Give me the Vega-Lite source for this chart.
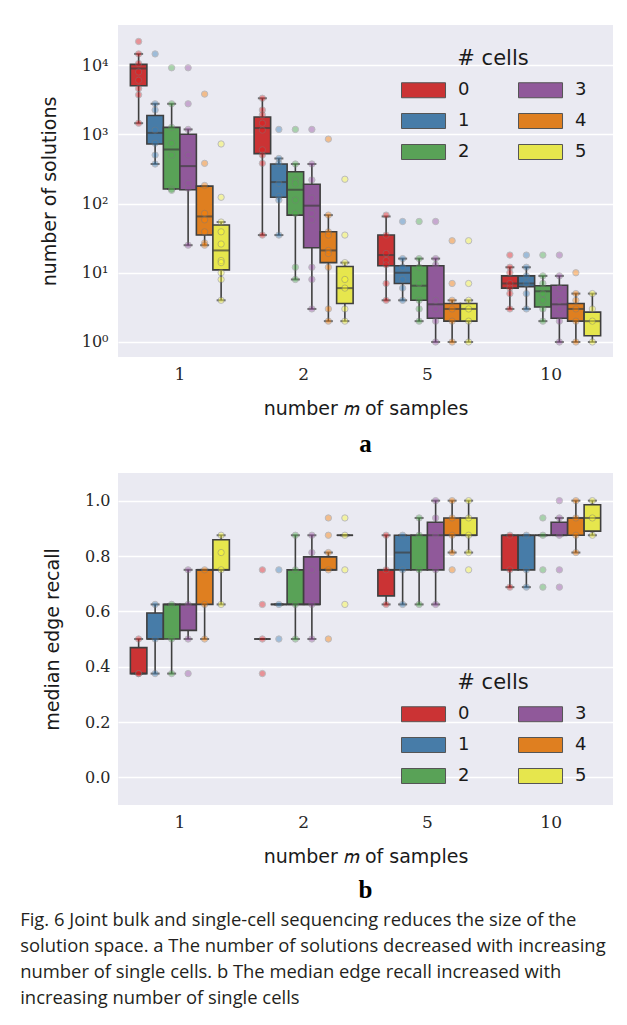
{
  "$schema": "https://vega.github.io/schema/vega-lite/v6.json",
  "background": "white",
  "padding": {"left": 20, "top": 25, "right": 16, "bottom": 5},
  "datasets": {
    "top_box": [
      {"m":"1","cells":"0","lo":1445,"q1":5012,"med":8913,"q3":10233,"hi":14454},
      {"m":"1","cells":"1","lo":372,"q1":724,"med":1047,"q3":1862,"hi":2754},
      {"m":"1","cells":"2","lo":162,"q1":162,"med":603,"q3":1259,"hi":2754},
      {"m":"1","cells":"3","lo":25,"q1":158,"med":347,"q3":1000,"hi":1175},
      {"m":"1","cells":"4","lo":25,"q1":35,"med":65,"q3":178,"hi":178},
      {"m":"1","cells":"5","lo":4,"q1":11,"med":21,"q3":49,"hi":54},
      {"m":"2","cells":"0","lo":35,"q1":525,"med":1230,"q3":1778,"hi":3311},
      {"m":"2","cells":"1","lo":35,"q1":123,"med":204,"q3":372,"hi":447},
      {"m":"2","cells":"2","lo":8,"q1":68,"med":158,"q3":288,"hi":372},
      {"m":"2","cells":"3","lo":3,"q1":23,"med":93,"q3":190,"hi":372},
      {"m":"2","cells":"4","lo":2,"q1":14,"med":21,"q3":39,"hi":68},
      {"m":"2","cells":"5","lo":2,"q1":3.6,"med":6,"q3":12.3,"hi":14},
      {"m":"5","cells":"0","lo":4,"q1":12.6,"med":18,"q3":35,"hi":65},
      {"m":"5","cells":"1","lo":4,"q1":7,"med":10,"q3":12.6,"hi":16},
      {"m":"5","cells":"2","lo":2,"q1":4,"med":6.5,"q3":12.6,"hi":16},
      {"m":"5","cells":"3","lo":1,"q1":2.2,"med":3.5,"q3":12.6,"hi":16},
      {"m":"5","cells":"4","lo":1,"q1":2,"med":3,"q3":3.6,"hi":4},
      {"m":"5","cells":"5","lo":1,"q1":2,"med":3,"q3":3.6,"hi":4},
      {"m":"10","cells":"0","lo":3,"q1":6,"med":7,"q3":9,"hi":12},
      {"m":"10","cells":"1","lo":3,"q1":6.3,"med":7,"q3":9,"hi":12},
      {"m":"10","cells":"2","lo":2,"q1":3.2,"med":5.4,"q3":6.5,"hi":9},
      {"m":"10","cells":"3","lo":1,"q1":2.2,"med":3.5,"q3":6.6,"hi":9},
      {"m":"10","cells":"4","lo":1,"q1":2,"med":3,"q3":3.6,"hi":5},
      {"m":"10","cells":"5","lo":1,"q1":1.23,"med":2,"q3":2.7,"hi":5}
    ],
    "top_pts": [
      {"m":"1","cells":"0","v":21878},{"m":"1","cells":"0","v":14454},{"m":"1","cells":"0","v":10500},{"m":"1","cells":"0","v":7943},{"m":"1","cells":"0","v":6026},{"m":"1","cells":"0","v":4571},{"m":"1","cells":"0","v":3715},{"m":"1","cells":"0","v":1445},
      {"m":"1","cells":"1","v":14454},{"m":"1","cells":"1","v":2754},{"m":"1","cells":"1","v":2239},{"m":"1","cells":"1","v":1148},{"m":"1","cells":"1","v":741},{"m":"1","cells":"1","v":501},{"m":"1","cells":"1","v":372},
      {"m":"1","cells":"2","v":9120},{"m":"1","cells":"2","v":2754},{"m":"1","cells":"2","v":1259},{"m":"1","cells":"2","v":741},{"m":"1","cells":"2","v":501},{"m":"1","cells":"2","v":162},{"m":"1","cells":"2","v":155},
      {"m":"1","cells":"3","v":9120},{"m":"1","cells":"3","v":2754},{"m":"1","cells":"3","v":1175},{"m":"1","cells":"3","v":501},{"m":"1","cells":"3","v":195},{"m":"1","cells":"3","v":166},{"m":"1","cells":"3","v":25},
      {"m":"1","cells":"4","v":3802},{"m":"1","cells":"4","v":380},{"m":"1","cells":"4","v":182},{"m":"1","cells":"4","v":72},{"m":"1","cells":"4","v":58},{"m":"1","cells":"4","v":39},{"m":"1","cells":"4","v":27},{"m":"1","cells":"4","v":25},
      {"m":"1","cells":"5","v":724},{"m":"1","cells":"5","v":123},{"m":"1","cells":"5","v":54},{"m":"1","cells":"5","v":39},{"m":"1","cells":"5","v":26},{"m":"1","cells":"5","v":15},{"m":"1","cells":"5","v":14},{"m":"1","cells":"5","v":10},{"m":"1","cells":"5","v":8},{"m":"1","cells":"5","v":4},
      {"m":"2","cells":"0","v":3311},{"m":"2","cells":"0","v":2239},{"m":"2","cells":"0","v":1905},{"m":"2","cells":"0","v":1445},{"m":"2","cells":"0","v":1148},{"m":"2","cells":"0","v":596},{"m":"2","cells":"0","v":501},{"m":"2","cells":"0","v":380},{"m":"2","cells":"0","v":35},
      {"m":"2","cells":"1","v":1175},{"m":"2","cells":"1","v":447},{"m":"2","cells":"1","v":380},{"m":"2","cells":"1","v":195},{"m":"2","cells":"1","v":126},{"m":"2","cells":"1","v":112},{"m":"2","cells":"1","v":35},
      {"m":"2","cells":"2","v":1175},{"m":"2","cells":"2","v":372},{"m":"2","cells":"2","v":219},{"m":"2","cells":"2","v":195},{"m":"2","cells":"2","v":112},{"m":"2","cells":"2","v":72},{"m":"2","cells":"2","v":12},{"m":"2","cells":"2","v":8},
      {"m":"2","cells":"3","v":1175},{"m":"2","cells":"3","v":372},{"m":"2","cells":"3","v":219},{"m":"2","cells":"3","v":120},{"m":"2","cells":"3","v":72},{"m":"2","cells":"3","v":58},{"m":"2","cells":"3","v":12},{"m":"2","cells":"3","v":8},{"m":"2","cells":"3","v":3},
      {"m":"2","cells":"4","v":851},{"m":"2","cells":"4","v":68},{"m":"2","cells":"4","v":39},{"m":"2","cells":"4","v":35},{"m":"2","cells":"4","v":21},{"m":"2","cells":"4","v":19},{"m":"2","cells":"4","v":12},{"m":"2","cells":"4","v":3},{"m":"2","cells":"4","v":2},
      {"m":"2","cells":"5","v":224},{"m":"2","cells":"5","v":35},{"m":"2","cells":"5","v":14},{"m":"2","cells":"5","v":8},{"m":"2","cells":"5","v":6},{"m":"2","cells":"5","v":3},{"m":"2","cells":"5","v":2},
      {"m":"5","cells":"0","v":68},{"m":"5","cells":"0","v":35},{"m":"5","cells":"0","v":19},{"m":"5","cells":"0","v":15},{"m":"5","cells":"0","v":13},{"m":"5","cells":"0","v":7},{"m":"5","cells":"0","v":4},
      {"m":"5","cells":"1","v":55},{"m":"5","cells":"1","v":16},{"m":"5","cells":"1","v":12},{"m":"5","cells":"1","v":8},{"m":"5","cells":"1","v":6},{"m":"5","cells":"1","v":4},
      {"m":"5","cells":"2","v":55},{"m":"5","cells":"2","v":16},{"m":"5","cells":"2","v":12},{"m":"5","cells":"2","v":7},{"m":"5","cells":"2","v":4},{"m":"5","cells":"2","v":3},{"m":"5","cells":"2","v":2},
      {"m":"5","cells":"3","v":55},{"m":"5","cells":"3","v":16},{"m":"5","cells":"3","v":13},{"m":"5","cells":"3","v":4},{"m":"5","cells":"3","v":3},{"m":"5","cells":"3","v":2},{"m":"5","cells":"3","v":1},
      {"m":"5","cells":"4","v":29},{"m":"5","cells":"4","v":7},{"m":"5","cells":"4","v":4},{"m":"5","cells":"4","v":3},{"m":"5","cells":"4","v":2},{"m":"5","cells":"4","v":1},
      {"m":"5","cells":"5","v":29},{"m":"5","cells":"5","v":7},{"m":"5","cells":"5","v":4},{"m":"5","cells":"5","v":3},{"m":"5","cells":"5","v":2},{"m":"5","cells":"5","v":1},
      {"m":"10","cells":"0","v":18},{"m":"10","cells":"0","v":12},{"m":"10","cells":"0","v":10},{"m":"10","cells":"0","v":7},{"m":"10","cells":"0","v":6},{"m":"10","cells":"0","v":5},{"m":"10","cells":"0","v":3},
      {"m":"10","cells":"1","v":18},{"m":"10","cells":"1","v":12},{"m":"10","cells":"1","v":9},{"m":"10","cells":"1","v":7},{"m":"10","cells":"1","v":5},{"m":"10","cells":"1","v":3},
      {"m":"10","cells":"2","v":18},{"m":"10","cells":"2","v":9},{"m":"10","cells":"2","v":7},{"m":"10","cells":"2","v":5},{"m":"10","cells":"2","v":4},{"m":"10","cells":"2","v":3},{"m":"10","cells":"2","v":2},
      {"m":"10","cells":"3","v":18},{"m":"10","cells":"3","v":9},{"m":"10","cells":"3","v":6},{"m":"10","cells":"3","v":4},{"m":"10","cells":"3","v":3},{"m":"10","cells":"3","v":2},{"m":"10","cells":"3","v":1},
      {"m":"10","cells":"4","v":10},{"m":"10","cells":"4","v":5},{"m":"10","cells":"4","v":4},{"m":"10","cells":"4","v":3},{"m":"10","cells":"4","v":2},{"m":"10","cells":"4","v":1},
      {"m":"10","cells":"5","v":5},{"m":"10","cells":"5","v":3},{"m":"10","cells":"5","v":2},{"m":"10","cells":"5","v":1}
    ],
    "bot_box": [
      {"m":"1","cells":"0","lo":0.375,"q1":0.375,"med":0.375,"q3":0.46875,"hi":0.5},
      {"m":"1","cells":"1","lo":0.375,"q1":0.5,"med":0.5,"q3":0.59375,"hi":0.625},
      {"m":"1","cells":"2","lo":0.375,"q1":0.5,"med":0.625,"q3":0.625,"hi":0.625},
      {"m":"1","cells":"3","lo":0.5,"q1":0.53125,"med":0.625,"q3":0.625,"hi":0.75},
      {"m":"1","cells":"4","lo":0.5,"q1":0.625,"med":0.75,"q3":0.75,"hi":0.75},
      {"m":"1","cells":"5","lo":0.625,"q1":0.75,"med":0.75,"q3":0.859,"hi":0.875},
      {"m":"2","cells":"0","lo":0.5,"q1":0.5,"med":0.5,"q3":0.5,"hi":0.5},
      {"m":"2","cells":"1","lo":0.625,"q1":0.625,"med":0.625,"q3":0.625,"hi":0.625},
      {"m":"2","cells":"2","lo":0.5,"q1":0.625,"med":0.625,"q3":0.75,"hi":0.875},
      {"m":"2","cells":"3","lo":0.5,"q1":0.625,"med":0.625,"q3":0.797,"hi":0.875},
      {"m":"2","cells":"4","lo":0.75,"q1":0.75,"med":0.75,"q3":0.797,"hi":0.8125},
      {"m":"2","cells":"5","lo":0.875,"q1":0.875,"med":0.875,"q3":0.875,"hi":0.875},
      {"m":"5","cells":"0","lo":0.625,"q1":0.656,"med":0.75,"q3":0.75,"hi":0.875},
      {"m":"5","cells":"1","lo":0.625,"q1":0.75,"med":0.8125,"q3":0.875,"hi":0.875},
      {"m":"5","cells":"2","lo":0.625,"q1":0.75,"med":0.875,"q3":0.875,"hi":0.9375},
      {"m":"5","cells":"3","lo":0.625,"q1":0.75,"med":0.875,"q3":0.922,"hi":1.0},
      {"m":"5","cells":"4","lo":0.8125,"q1":0.875,"med":0.875,"q3":0.9375,"hi":1.0},
      {"m":"5","cells":"5","lo":0.8125,"q1":0.875,"med":0.875,"q3":0.9375,"hi":1.0},
      {"m":"10","cells":"0","lo":0.6875,"q1":0.75,"med":0.875,"q3":0.875,"hi":0.875},
      {"m":"10","cells":"1","lo":0.6875,"q1":0.75,"med":0.875,"q3":0.875,"hi":0.875},
      {"m":"10","cells":"2","lo":0.875,"q1":0.875,"med":0.875,"q3":0.875,"hi":0.875},
      {"m":"10","cells":"3","lo":0.875,"q1":0.875,"med":0.875,"q3":0.922,"hi":0.9375},
      {"m":"10","cells":"4","lo":0.8125,"q1":0.875,"med":0.9375,"q3":0.9375,"hi":1.0},
      {"m":"10","cells":"5","lo":0.875,"q1":0.89,"med":0.9375,"q3":0.985,"hi":1.0}
    ],
    "bot_pts": [
      {"m":"1","cells":"0","v":0.5},{"m":"1","cells":"0","v":0.375},{"m":"1","cells":"0","v":0.375},
      {"m":"1","cells":"1","v":0.625},{"m":"1","cells":"1","v":0.5},{"m":"1","cells":"1","v":0.375},
      {"m":"1","cells":"2","v":0.625},{"m":"1","cells":"2","v":0.5},{"m":"1","cells":"2","v":0.375},
      {"m":"1","cells":"3","v":0.75},{"m":"1","cells":"3","v":0.625},{"m":"1","cells":"3","v":0.5},{"m":"1","cells":"3","v":0.375},
      {"m":"1","cells":"4","v":0.75},{"m":"1","cells":"4","v":0.625},{"m":"1","cells":"4","v":0.5},
      {"m":"1","cells":"5","v":0.875},{"m":"1","cells":"5","v":0.8125},{"m":"1","cells":"5","v":0.75},{"m":"1","cells":"5","v":0.625},
      {"m":"2","cells":"0","v":0.75},{"m":"2","cells":"0","v":0.625},{"m":"2","cells":"0","v":0.5},{"m":"2","cells":"0","v":0.375},
      {"m":"2","cells":"1","v":0.75},{"m":"2","cells":"1","v":0.625},{"m":"2","cells":"1","v":0.5},
      {"m":"2","cells":"2","v":0.875},{"m":"2","cells":"2","v":0.75},{"m":"2","cells":"2","v":0.625},{"m":"2","cells":"2","v":0.5},
      {"m":"2","cells":"3","v":0.875},{"m":"2","cells":"3","v":0.8125},{"m":"2","cells":"3","v":0.75},{"m":"2","cells":"3","v":0.625},{"m":"2","cells":"3","v":0.5},
      {"m":"2","cells":"4","v":0.9375},{"m":"2","cells":"4","v":0.875},{"m":"2","cells":"4","v":0.8125},{"m":"2","cells":"4","v":0.75},{"m":"2","cells":"4","v":0.5},
      {"m":"2","cells":"5","v":0.9375},{"m":"2","cells":"5","v":0.875},{"m":"2","cells":"5","v":0.75},{"m":"2","cells":"5","v":0.625},
      {"m":"5","cells":"0","v":0.875},{"m":"5","cells":"0","v":0.75},{"m":"5","cells":"0","v":0.625},
      {"m":"5","cells":"1","v":0.875},{"m":"5","cells":"1","v":0.75},{"m":"5","cells":"1","v":0.625},
      {"m":"5","cells":"2","v":0.9375},{"m":"5","cells":"2","v":0.875},{"m":"5","cells":"2","v":0.75},{"m":"5","cells":"2","v":0.625},
      {"m":"5","cells":"3","v":1.0},{"m":"5","cells":"3","v":0.9375},{"m":"5","cells":"3","v":0.875},{"m":"5","cells":"3","v":0.75},{"m":"5","cells":"3","v":0.625},
      {"m":"5","cells":"4","v":1.0},{"m":"5","cells":"4","v":0.9375},{"m":"5","cells":"4","v":0.875},{"m":"5","cells":"4","v":0.8125},{"m":"5","cells":"4","v":0.75},
      {"m":"5","cells":"5","v":1.0},{"m":"5","cells":"5","v":0.9375},{"m":"5","cells":"5","v":0.875},{"m":"5","cells":"5","v":0.8125},{"m":"5","cells":"5","v":0.75},
      {"m":"10","cells":"0","v":0.875},{"m":"10","cells":"0","v":0.75},{"m":"10","cells":"0","v":0.6875},
      {"m":"10","cells":"1","v":0.875},{"m":"10","cells":"1","v":0.75},{"m":"10","cells":"1","v":0.6875},
      {"m":"10","cells":"2","v":0.9375},{"m":"10","cells":"2","v":0.875},{"m":"10","cells":"2","v":0.75},{"m":"10","cells":"2","v":0.6875},
      {"m":"10","cells":"3","v":1.0},{"m":"10","cells":"3","v":0.9375},{"m":"10","cells":"3","v":0.875},{"m":"10","cells":"3","v":0.75},{"m":"10","cells":"3","v":0.6875},
      {"m":"10","cells":"4","v":1.0},{"m":"10","cells":"4","v":0.9375},{"m":"10","cells":"4","v":0.875},{"m":"10","cells":"4","v":0.8125},
      {"m":"10","cells":"5","v":1.0},{"m":"10","cells":"5","v":0.9375},{"m":"10","cells":"5","v":0.875}
    ]
  },
  "config": {
    "view": {"fill": "#eaeaf2", "stroke": null},
    "axis": {"domain": false, "ticks": false, "gridColor": "white", "gridWidth": 1.3, "labelFont": "DejaVu Serif", "labelColor": "#262626", "titleFont": "DejaVu Sans", "titleFontWeight": "normal", "titleColor": "#1a1a1a", "titleFontSize": 19},
    "legend": {"padding": 0, "titleFont": "DejaVu Sans", "titleFontSize": 21, "titleFontWeight": "normal", "titleColor": "#1a1a1a", "titleAnchor": "middle", "titlePadding": 12, "labelFont": "DejaVu Sans", "labelFontSize": 18, "labelColor": "#1a1a1a", "symbolType": "M-1,-1H4.87V1H-1Z", "symbolSize": 225, "symbolStrokeColor": "#555555", "symbolStrokeWidth": 1, "symbolOpacity": 1, "labelOffset": 40, "columnPadding": 46, "rowPadding": 11, "columns": 2}
  },
  "title": {
    "text": ["Fig. 6  Joint bulk and single-cell sequencing reduces the size of the", "solution space. a The number of solutions decreased with increasing", "number of single cells. b The median edge recall increased with", "increasing number of single cells"],
    "orient": "bottom", "anchor": "start", "frame": "bounds", "font": "Open Sans", "fontSize": 18.4, "fontWeight": "normal", "lineHeight": 26, "color": "#231f20", "offset": 8, "dx": -20
  },
  "spacing": 16,
  "resolve": {"scale": {"color": "independent", "fill": "independent", "y": "independent", "x": "independent", "xOffset": "independent"}, "legend": {"color": "independent", "fill": "independent"}},
  "vconcat": [
    {
      "width": 495, "height": 332,
      "title": {"text": "a", "orient": "bottom", "font": "Liberation Serif", "fontSize": 25, "fontWeight": "bold", "color": "black", "offset": 14},
      "layer": [
        {"data": {"name": "top_box"}, "mark": {"type": "rule", "color": "#3f3f3f", "strokeWidth": 1.6},
         "encoding": {
           "x": {"field": "m", "type": "ordinal", "sort": ["1","2","5","10"], "scale": {"paddingInner": 0, "paddingOuter": 0}, "title": "number 𝑚 of samples", "axis": {"labelAngle": 0, "labelFontSize": 17, "labelPadding": 9, "titlePadding": 17, "grid": false}},
           "xOffset": {"field": "cells", "type": "nominal", "sort": ["0","1","2","3","4","5"], "scale": {"paddingInner": 0, "paddingOuter": 0.75}},
           "y": {"field": "lo", "type": "quantitative", "scale": {"type": "log", "domain": [0.607, 37840], "nice": false}, "title": "number of solutions", "axis": {"values": [1,10,100,1000,10000], "labelExpr": "datum.value == 1 ? '10⁰' : datum.value == 10 ? '10¹' : datum.value == 100 ? '10²' : datum.value == 1000 ? '10³' : '10⁴'", "labelFontSize": 16, "labelPadding": 10, "titlePadding": 22}},
           "y2": {"field": "hi"}
         }},
        {"data": {"name": "top_box"}, "mark": {"type": "bar", "stroke": "#3f3f3f", "strokeWidth": 1.6, "opacity": 1},
         "encoding": {
           "x": {"field": "m", "type": "ordinal", "sort": ["1","2","5","10"]},
           "xOffset": {"field": "cells", "type": "nominal", "sort": ["0","1","2","3","4","5"]},
           "y": {"field": "q1", "type": "quantitative"},
           "y2": {"field": "q3"},
           "color": {"field": "cells", "type": "nominal", "scale": {"domain": ["0","1","2","3","4","5"], "range": ["#cb3334","#477ca8","#59a257","#90599a","#df7f20","#e6e64d"]}, "legend": {"title": "# cells", "orient": "none", "legendX": 282, "legendY": 23}}
         }},
        {"data": {"name": "top_box"}, "mark": {"type": "tick", "color": "#3f3f3f", "thickness": 2, "size": 16},
         "encoding": {"x": {"field": "m", "type": "ordinal", "sort": ["1","2","5","10"]}, "xOffset": {"field": "cells", "type": "nominal", "sort": ["0","1","2","3","4","5"]}, "y": {"field": "med", "type": "quantitative"}}},
        {"data": {"name": "top_box"}, "mark": {"type": "tick", "color": "#3f3f3f", "thickness": 2, "size": 9},
         "encoding": {"x": {"field": "m", "type": "ordinal", "sort": ["1","2","5","10"]}, "xOffset": {"field": "cells", "type": "nominal", "sort": ["0","1","2","3","4","5"]}, "y": {"field": "lo", "type": "quantitative"}}},
        {"data": {"name": "top_box"}, "mark": {"type": "tick", "color": "#3f3f3f", "thickness": 2, "size": 9},
         "encoding": {"x": {"field": "m", "type": "ordinal", "sort": ["1","2","5","10"]}, "xOffset": {"field": "cells", "type": "nominal", "sort": ["0","1","2","3","4","5"]}, "y": {"field": "hi", "type": "quantitative"}}},
        {"data": {"name": "top_pts"}, "mark": {"type": "circle", "size": 40, "opacity": 0.42, "stroke": "#7a7a7a", "strokeWidth": 1},
         "encoding": {"x": {"field": "m", "type": "ordinal", "sort": ["1","2","5","10"]}, "xOffset": {"field": "cells", "type": "nominal", "sort": ["0","1","2","3","4","5"]}, "y": {"field": "v", "type": "quantitative"},
           "fill": {"field": "cells", "type": "nominal", "scale": {"domain": ["0","1","2","3","4","5"], "range": ["#e41a1c","#377eb8","#4daf4a","#984ea3","#ff7f00","#ffff33"]}, "legend": null}}}
      ]
    },
    {
      "width": 495, "height": 332,
      "title": {"text": "b", "orient": "bottom", "font": "Liberation Serif", "fontSize": 25, "fontWeight": "bold", "color": "black", "offset": 12},
      "layer": [
        {"data": {"name": "bot_box"}, "mark": {"type": "rule", "color": "#3f3f3f", "strokeWidth": 1.6},
         "encoding": {
           "x": {"field": "m", "type": "ordinal", "sort": ["1","2","5","10"], "scale": {"paddingInner": 0, "paddingOuter": 0}, "title": "number 𝑚 of samples", "axis": {"labelAngle": 0, "labelFontSize": 17, "labelPadding": 9, "titlePadding": 17, "grid": false}},
           "xOffset": {"field": "cells", "type": "nominal", "sort": ["0","1","2","3","4","5"], "scale": {"paddingInner": 0, "paddingOuter": 0.75}},
           "y": {"field": "lo", "type": "quantitative", "scale": {"domain": [-0.1, 1.1], "nice": false, "zero": false}, "title": "median edge recall", "axis": {"values": [0,0.2,0.4,0.6,0.8,1.0], "format": ".1f", "labelFontSize": 16, "labelPadding": 8, "titlePadding": 22}},
           "y2": {"field": "hi"}
         }},
        {"data": {"name": "bot_box"}, "mark": {"type": "bar", "stroke": "#3f3f3f", "strokeWidth": 1.6, "opacity": 1},
         "encoding": {
           "x": {"field": "m", "type": "ordinal", "sort": ["1","2","5","10"]},
           "xOffset": {"field": "cells", "type": "nominal", "sort": ["0","1","2","3","4","5"]},
           "y": {"field": "q1", "type": "quantitative"},
           "y2": {"field": "q3"},
           "color": {"field": "cells", "type": "nominal", "scale": {"domain": ["0","1","2","3","4","5"], "range": ["#cb3334","#477ca8","#59a257","#90599a","#df7f20","#e6e64d"]}, "legend": {"title": "# cells", "orient": "none", "legendX": 282, "legendY": 199}}
         }},
        {"data": {"name": "bot_box"}, "mark": {"type": "tick", "color": "#3f3f3f", "thickness": 2, "size": 16},
         "encoding": {"x": {"field": "m", "type": "ordinal", "sort": ["1","2","5","10"]}, "xOffset": {"field": "cells", "type": "nominal", "sort": ["0","1","2","3","4","5"]}, "y": {"field": "med", "type": "quantitative"}}},
        {"data": {"name": "bot_box"}, "mark": {"type": "tick", "color": "#3f3f3f", "thickness": 2, "size": 9},
         "encoding": {"x": {"field": "m", "type": "ordinal", "sort": ["1","2","5","10"]}, "xOffset": {"field": "cells", "type": "nominal", "sort": ["0","1","2","3","4","5"]}, "y": {"field": "lo", "type": "quantitative"}}},
        {"data": {"name": "bot_box"}, "mark": {"type": "tick", "color": "#3f3f3f", "thickness": 2, "size": 9},
         "encoding": {"x": {"field": "m", "type": "ordinal", "sort": ["1","2","5","10"]}, "xOffset": {"field": "cells", "type": "nominal", "sort": ["0","1","2","3","4","5"]}, "y": {"field": "hi", "type": "quantitative"}}},
        {"data": {"name": "bot_pts"}, "mark": {"type": "circle", "size": 40, "opacity": 0.42, "stroke": "#7a7a7a", "strokeWidth": 1},
         "encoding": {"x": {"field": "m", "type": "ordinal", "sort": ["1","2","5","10"]}, "xOffset": {"field": "cells", "type": "nominal", "sort": ["0","1","2","3","4","5"]}, "y": {"field": "v", "type": "quantitative"},
           "fill": {"field": "cells", "type": "nominal", "scale": {"domain": ["0","1","2","3","4","5"], "range": ["#e41a1c","#377eb8","#4daf4a","#984ea3","#ff7f00","#ffff33"]}, "legend": null}}}
      ]
    }
  ]
}
